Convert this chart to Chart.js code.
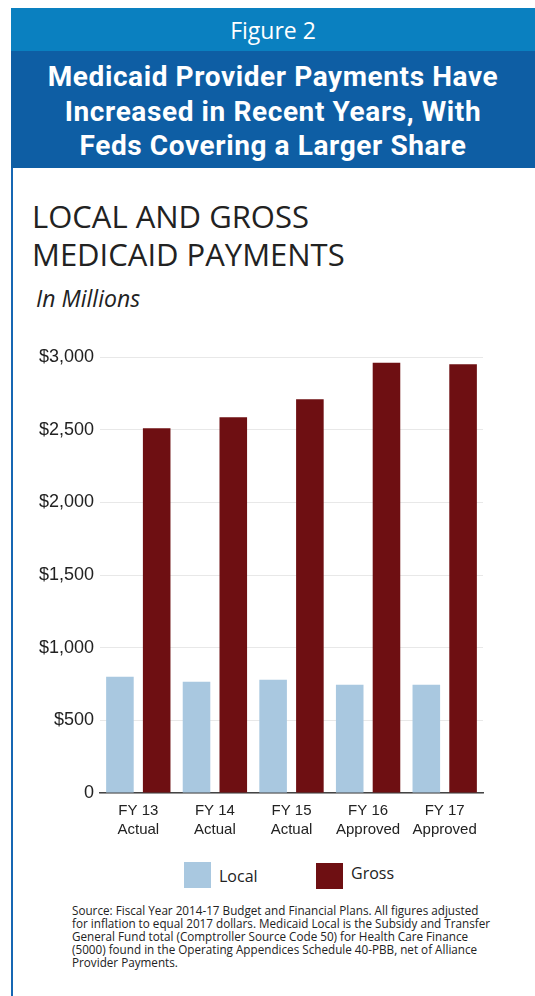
<!DOCTYPE html>
<html>
<head>
<meta charset="utf-8">
<script src="https://cdn.jsdelivr.net/npm/chart.js@4.4.1/dist/chart.umd.min.js"></script>
<style>
  body { margin: 0; width: 535px; height: 996px; background: #fff; position: relative; overflow: hidden; font-family: "Open Sans", sans-serif; }
  .frame { position: absolute; left: 11px; top: 8px; width: 524px; height: 988px; border-left: 2px solid #1667b3; box-sizing: border-box; }
  .fig { position: absolute; left: 11px; top: 8px; width: 524px; height: 43px; background: #0a80c0; color: #fff; font: 23px "Open Sans", sans-serif; text-align: center; line-height: 44px; }
  .head { position: absolute; left: 11px; top: 51px; width: 524px; height: 117px; background: #0e5ea4; color: #fff; font: bold 28px Roboto, sans-serif; letter-spacing: 0.6px; text-align: center; line-height: 34.5px; padding-top: 9px; box-sizing: border-box; }
  .title { position: absolute; left: 32px; top: 197px; font-size: 31px; color: #222; line-height: 38px; }
  .sub { position: absolute; left: 36px; top: 282px; font-size: 23px; font-style: italic; color: #222; }
  .plot { position: absolute; left: 0; top: 340px; width: 535px; height: 510px; }
  .legend { position: absolute; top: 862px; left: 0; width: 535px; height: 30px; }
  .legend .box { position: absolute; width: 27px; height: 26px; }
  .legend .lbl { position: absolute; font-size: 16px; color: #222; }
  .source { position: absolute; left: 72px; top: 904px; font-size: 11.7px; line-height: 13px; color: #222; }
</style>
</head>
<body>
<div class="frame"></div>
<div class="fig">Figure 2</div>
<div class="head">Medicaid Provider Payments Have<br>Increased in Recent Years, With<br>Feds Covering a Larger Share</div>
<div class="title">LOCAL AND GROSS<br>MEDICAID PAYMENTS</div>
<div class="sub">In Millions</div>
<div class="plot"><canvas id="chart"></canvas></div>
<div class="legend" id="legend"></div>
<div class="source">Source: Fiscal Year 2014-17 Budget and Financial Plans. All figures adjusted<br>for inflation to equal 2017 dollars. Medicaid Local is the Subsidy and Transfer<br>General Fund total (Comptroller Source Code 50) for Health Care Finance<br>(5000) found in the Operating Appendices Schedule 40-PBB, net of Alliance<br>Provider Payments.</div>

<script>
// fiscal years on the x axis
const categories = [
    ['FY 13', 'Actual'],
    ['FY 14', 'Actual'],
    ['FY 15', 'Actual'],
    ['FY 16', 'Approved'],
    ['FY 17', 'Approved']
];

// $ millions
const localValues = [800, 765, 780, 745, 745];
const grossValues = [2510, 2585, 2710, 2960, 2950];

const seriesNames = ['Local', 'Gross'];
const seriesColors = ['#a9c8e0', '#6e0f12'];

const narrow = '"Liberation Sans Narrow", sans-serif';

const ctx = document.getElementById('chart').getContext('2d');
const chart = new Chart(ctx, {
    type: 'bar',
    data: {
        labels: categories,
        datasets: [{
            label: seriesNames[0],
            data: localValues,
            backgroundColor: seriesColors[0]
        }, {
            label: seriesNames[1],
            data: grossValues,
            backgroundColor: seriesColors[1]
        }]
    },
    options: {
        responsive: true,
        maintainAspectRatio: false,
        animation: false,
        datasets: {
            bar: { categoryPercentage: 0.96, barPercentage: 0.75 }
        },
        layout: { padding: { top: 17, right: 52, left: 0, bottom: 0 } },
        scales: {
            x: {
                grid: { display: false },
                border: { color: '#444', width: 1.5 },
                ticks: { color: '#222', font: { family: narrow, size: 15, lineHeight: 1.3 }, padding: 0, maxRotation: 0 },
                afterFit: (axis) => { axis.height = 57; }
            },
            y: {
                min: 0,
                max: 3000,
                ticks: {
                    stepSize: 500,
                    color: '#222',
                    padding: 6,
                    font: { family: narrow, size: 18 },
                    callback: (v) => v === 0 ? '0' : '$' + v.toLocaleString('en-US')
                },
                grid: { color: '#e8e8e8', drawTicks: false },
                border: { display: false },
                afterFit: (axis) => { axis.width = 100; }
            }
        },
        plugins: {
            legend: { display: false },
            tooltip: { enabled: false }
        }
    }
});

// legend built from the dataset names/colours
const legend = document.getElementById('legend');
const legendX = [184, 316];
const legendDy = [0, 1];
const labelDy = [3, 0];
seriesNames.forEach((name, i) => {
    const box = document.createElement('div');
    box.className = 'box';
    box.style.left = legendX[i] + 'px';
    box.style.top = legendDy[i] + 'px';
    box.style.background = seriesColors[i];
    legend.appendChild(box);
    const lbl = document.createElement('div');
    lbl.className = 'lbl';
    lbl.textContent = name;
    lbl.style.left = (legendX[i] + 35) + 'px';
    lbl.style.top = labelDy[i] + 'px';
    legend.appendChild(lbl);
});
</script>
</body>
</html>
